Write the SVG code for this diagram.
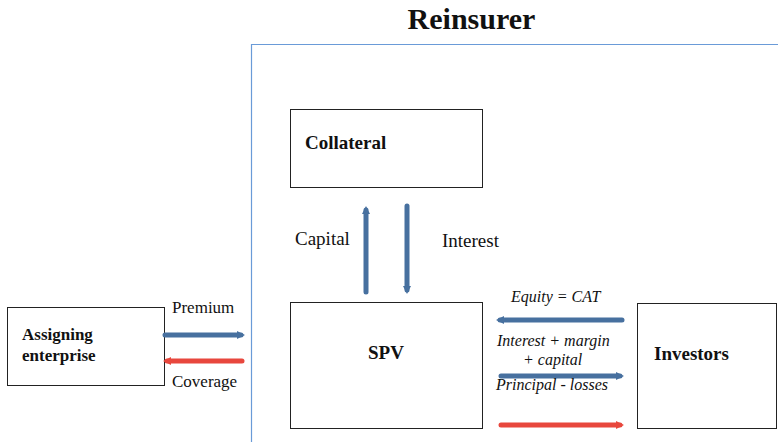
<svg xmlns="http://www.w3.org/2000/svg" width="778" height="442" viewBox="0 0 778 442">
<style>
.box{fill:#fff;stroke:#222;stroke-width:1}
.t{font-family:'Liberation Serif','Times New Roman',serif;fill:#111}
.b{font-weight:bold}
.i{font-style:italic}
.blue{stroke:#47709f;stroke-width:5;stroke-linecap:round;fill:none}
.red{stroke:#e8473d;stroke-width:5;stroke-linecap:round;fill:none}
</style>
<defs>
<marker id="hb" viewBox="0 0 4 4" refX="2" refY="2" markerWidth="1.6" markerHeight="1.6" orient="auto" markerUnits="strokeWidth"><path d="M0,0 L4,2 L0,4 Z" fill="#47709f"/></marker>
<marker id="hr" viewBox="0 0 4 4" refX="2" refY="2" markerWidth="1.6" markerHeight="1.6" orient="auto" markerUnits="strokeWidth"><path d="M0,0 L4,2 L0,4 Z" fill="#e8473d"/></marker>
</defs>
<rect width="778" height="442" fill="#fff"/>
<g id="reinsurer">
<path d="M251.5,442 L251.5,44.5 L778,44.5" fill="none" stroke="#6a9bd8" stroke-width="1.2"/>
<text class="t b" x="471.5" y="29" font-size="30" text-anchor="middle">Reinsurer</text>
</g>
<g id="collateral">
<rect class="box" x="290.5" y="109.5" width="192" height="78"/>
<text class="t b" x="305" y="149" font-size="19">Collateral</text>
</g>
<g id="spv">
<rect class="box" x="290.5" y="302.5" width="192" height="126"/>
<text class="t b" x="386" y="359" font-size="19" text-anchor="middle">SPV</text>
</g>
<g id="investors">
<rect class="box" x="637.5" y="303.5" width="139" height="125"/>
<text class="t b" x="654" y="360" font-size="19">Investors</text>
</g>
<g id="assigning">
<rect class="box" x="7.5" y="307.5" width="157" height="78"/>
<text class="t b" x="22" y="340" font-size="17">Assigning</text>
<text class="t b" x="22" y="361" font-size="17">enterprise</text>
</g>
<g id="connectors">
<line class="blue" x1="165" y1="335" x2="241" y2="335" marker-end="url(#hb)"/>
<line class="red" x1="242" y1="361" x2="167" y2="361" marker-end="url(#hr)"/>
<line class="blue" x1="366" y1="292" x2="366" y2="210" marker-end="url(#hb)"/>
<line class="blue" x1="407" y1="206" x2="407" y2="290" marker-end="url(#hb)"/>
<line class="blue" x1="622" y1="320" x2="500" y2="320" marker-end="url(#hb)"/>
<line class="blue" x1="501" y1="376" x2="620" y2="376" marker-end="url(#hb)"/>
<line class="red" x1="501" y1="425" x2="620" y2="425" marker-end="url(#hr)"/>
</g>
<g id="labels">
<text class="t" x="172" y="313" font-size="17">Premium</text>
<text class="t" x="172" y="387" font-size="17">Coverage</text>
<text class="t" x="295" y="245" font-size="19">Capital</text>
<text class="t" x="442" y="247" font-size="19">Interest</text>
<text class="t i" x="511" y="302" font-size="16">Equity = CAT</text>
<text class="t i" x="497" y="346" font-size="16">Interest + margin</text>
<text class="t i" x="523" y="365" font-size="16">+ capital</text>
<text class="t i" x="496" y="390" font-size="16">Principal - losses</text>
</g>
</svg>
